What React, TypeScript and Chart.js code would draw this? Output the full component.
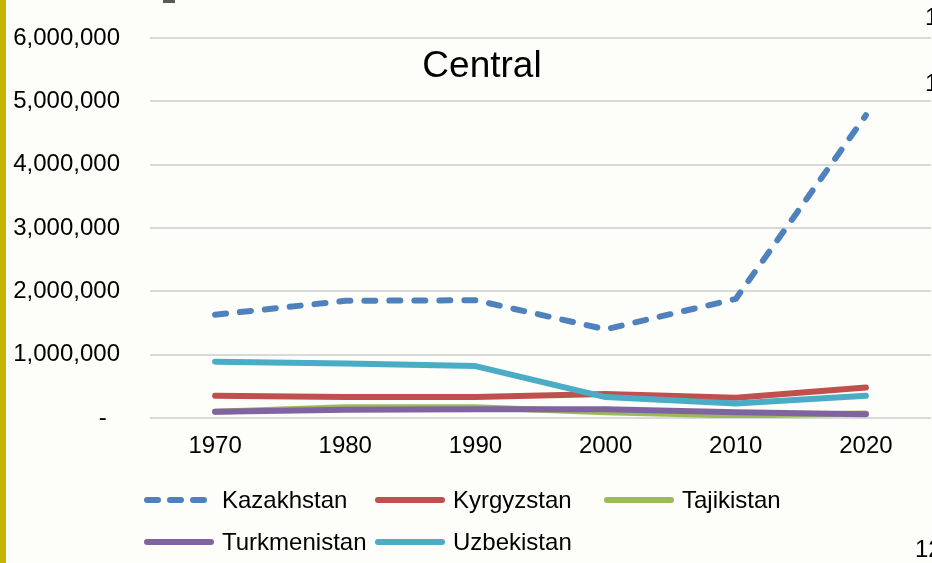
import React, { useEffect, useRef } from 'react';
import { Chart, registerables } from 'chart.js';

Chart.register(...registerables);

const years = ['1970', '1980', '1990', '2000', '2010', '2020'];
const kazakhstan = [1630000, 1850000, 1860000, 1400000, 1880000, 4780000];
const kyrgyzstan = [350000, 330000, 330000, 380000, 320000, 480000];
const tajikistan = [100000, 170000, 170000, 90000, 40000, 70000];
const turkmenistan = [100000, 130000, 140000, 140000, 90000, 60000];
const uzbekistan = [890000, 860000, 820000, 330000, 230000, 350000];

const seriesNames = ['Kazakhstan', 'Kyrgyzstan', 'Tajikistan', 'Turkmenistan', 'Uzbekistan'];
const seriesValues = [kazakhstan, kyrgyzstan, tajikistan, turkmenistan, uzbekistan];
const seriesColors = ['#4f81bd', '#c0504d', '#9bbb59', '#8064a2', '#4bacc6'];
const seriesDashed = [true, false, false, false, false];

const yMin = 0;
const yMax = 6000000;
const yStep = 1000000;
const chartTitle = 'Central';

const FONT = '"Liberation Sans", Arial, sans-serif';

// legend grid layout: [column, row] for each series
const legendSlots = [
  [0, 0],
  [1, 0],
  [2, 0],
  [0, 1],
  [1, 1],
];
const legendColX = [144, 375, 604];
const legendRowY = [500, 542];

const titlePlugin = {
  id: 'overlayTitle',
  afterDraw(chart: any) {
    const ctx = chart.ctx;
    ctx.save();
    ctx.font = `37px ${FONT}`;
    ctx.fillStyle = '#000000';
    ctx.textAlign = 'center';
    ctx.textBaseline = 'alphabetic';
    ctx.fillText(chartTitle, 482, 77);
    ctx.restore();
  },
};

export default function App() {
  const canvasRef = useRef<HTMLCanvasElement | null>(null);

  useEffect(() => {
    if (!canvasRef.current) return;
    Chart.defaults.font.family = FONT;
    const chart = new Chart(canvasRef.current, {
      type: 'line',
      data: {
        labels: years,
        datasets: seriesNames.map((name, i) => ({
          label: name,
          data: seriesValues[i],
          borderColor: seriesColors[i],
          backgroundColor: seriesColors[i],
          borderWidth: 6,
          borderDash: seriesDashed[i] ? [11, 14] : [],
          borderCapStyle: 'round' as const,
          borderJoinStyle: 'round' as const,
          pointRadius: 0,
          tension: 0,
          fill: false,
          order: seriesNames.length - i,
        })),
      },
      options: {
        responsive: false,
        animation: false,
        devicePixelRatio: 1,
        layout: { padding: { top: 38, right: 1, left: 0, bottom: 0 } },
        plugins: {
          legend: { display: false },
          title: { display: false },
          tooltip: { enabled: false },
        },
        scales: {
          x: {
            offset: true,
            grid: { display: false, drawTicks: false },
            border: { display: false },
            ticks: {
              color: '#000000',
              font: { size: 24 },
              padding: 14,
              maxRotation: 0,
            },
            afterFit(scale: any) {
              scale.height = 145;
            },
          },
          y: {
            min: yMin,
            max: yMax,
            grid: { color: '#d9d9d9', lineWidth: 2, drawTicks: false },
            border: { display: false },
            ticks: {
              stepSize: yStep,
              color: '#000000',
              font: { size: 24 },
              padding: 30,
              callback: (v: any) => (Number(v) === 0 ? '-  ' : Number(v).toLocaleString('en-US')),
            },
            afterFit(scale: any) {
              scale.width = 150;
              scale.paddingTop = 0;
              scale.paddingBottom = 0;
            },
          },
        },
      },
      plugins: [titlePlugin],
    });
    return () => chart.destroy();
  }, []);

  return (
    <div
      style={{
        position: 'fixed',
        left: 0,
        top: 0,
        width: 932,
        height: 563,
        background: '#fdfdf9',
        overflow: 'hidden',
      }}
    >
      <div style={{ position: 'absolute', left: 0, top: 0, width: 6, height: 563, background: '#c6b400' }} />
      <div style={{ position: 'absolute', left: 163, top: 0, width: 12, height: 3, background: '#595959' }} />
      <canvas
        ref={canvasRef}
        width={932}
        height={563}
        style={{ position: 'absolute', left: 0, top: 0, width: 932, height: 563 }}
      />
      <svg
        width={932}
        height={563}
        style={{ position: 'absolute', left: 0, top: 0 }}
        fontFamily={FONT}
      >
        {seriesNames.map((name, i) => {
          const [c, r] = legendSlots[i];
          const x = legendColX[c];
          const y = legendRowY[r];
          return (
            <g key={name}>
              <line
                x1={x + 3}
                y1={y}
                x2={x + 67}
                y2={y}
                stroke={seriesColors[i]}
                strokeWidth={6}
                strokeLinecap="round"
                strokeDasharray={seriesDashed[i] ? '11 12' : undefined}
              />
              <text x={x + 78} y={y + 8} fontSize={24} fill="#000000">
                {name}
              </text>
            </g>
          );
        })}
        <text x={925} y={25} fontSize={24} fill="#000000">1</text>
        <text x={925} y={91} fontSize={24} fill="#000000">1</text>
        <text x={915} y={557} fontSize={24} fill="#000000">12</text>
      </svg>
    </div>
  );
}
